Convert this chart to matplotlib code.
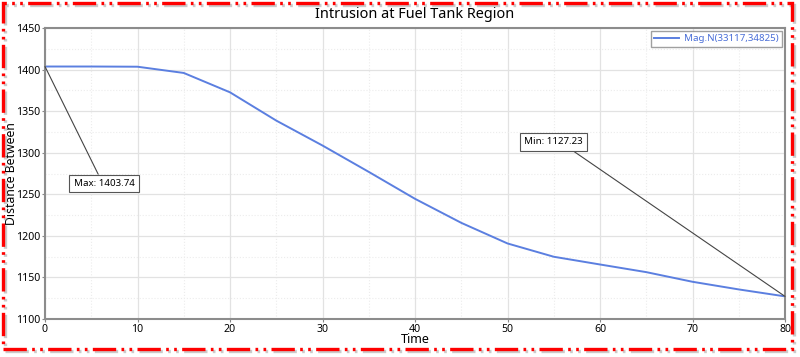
import matplotlib.pyplot as plt
from matplotlib.patches import Rectangle
from matplotlib.ticker import MultipleLocator

plt.rcParams['font.family'] = ['Noto Sans', 'DejaVu Sans']

# данные кривой
time = [0, 5, 10, 15, 20, 25, 30, 35, 40, 45, 50, 55, 60, 65, 70, 75, 80]
dist = [1403.74, 1403.74, 1403.5, 1396.0, 1372.7, 1338.7, 1308.7, 1277.0, 1244.6,
        1215.7, 1190.9, 1174.9, 1165.6, 1156.4, 1144.8, 1135.6, 1127.23]
series_name = 'Mag.N(33117,34825)'

fig = plt.figure(figsize=(8, 3.57), dpi=100)
ax = fig.add_axes([0.05625, 0.1064, 0.925, 0.815])

ax.plot(time, dist, color='#5b7fe0', lw=1.4, label=series_name)
ax.set_xlim(0, 80)
ax.set_ylim(1100, 1450)
ax.xaxis.set_major_locator(MultipleLocator(10))
ax.xaxis.set_minor_locator(MultipleLocator(5))
ax.yaxis.set_major_locator(MultipleLocator(50))
ax.yaxis.set_minor_locator(MultipleLocator(25))
ax.grid(which='major', color='#e2e2e2', lw=0.9)
ax.grid(which='minor', color='#ececec', lw=0.8, ls=':')
ax.tick_params(which='major', length=2.5, labelsize=7.6, color='#888888', pad=1)
ax.tick_params(which='minor', length=0)
for s in ax.spines.values():
    s.set_color('#8c8c8c')
    s.set_linewidth(1.5)

ax.set_title('Intrusion at Fuel Tank Region', fontsize=10.4, pad=7)
ax.set_xlabel('Time', fontsize=9, labelpad=-1)
ax.set_ylabel('Distance Between', fontsize=8.8)
ax.yaxis.set_label_coords(-0.037, 0.5)

leg = ax.legend(loc='upper right', fontsize=7, frameon=True, fancybox=False,
                handlelength=2.6, handletextpad=0.5, borderpad=0.35, borderaxespad=0.3)
leg.get_frame().set_edgecolor('#888888')
leg.get_frame().set_linewidth(1.0)
for t in leg.get_texts():
    t.set_color('#4a6fd8')

# подписи максимума и минимума
i_max = dist.index(max(dist))
i_min = dist.index(min(dist))
box = dict(boxstyle='square,pad=0.45', fc='white', ec='#555555', lw=0.8)
ax.annotate('Max: %.2f' % dist[i_max], xy=(time[i_max], dist[i_max]), xytext=(6.4, 1263),
            fontsize=7, ha='center', va='center', bbox=box,
            arrowprops=dict(arrowstyle='-', color='#444444', lw=0.8, shrinkA=0, shrinkB=0,
                            relpos=(0.44, 1.0)))
ax.annotate('Min: %.2f' % dist[i_min], xy=(time[i_min], dist[i_min]), xytext=(55.0, 1313),
            fontsize=7, ha='center', va='center', bbox=box,
            arrowprops=dict(arrowstyle='-', color='#444444', lw=0.8, shrinkA=0, shrinkB=0,
                            relpos=(0.72, 0.0)))

# рамка вокруг рисунка
dash = (0, (7, 1.6, 0.8, 1.6, 0.8, 1.6))
fig.patches.append(Rectangle((0.006, 0.018), 0.986, 0.969, transform=fig.transFigure,
                             fill=False, ec='#999999', lw=2.4, alpha=0.5, linestyle=dash))
fig.patches.append(Rectangle((0.0035, 0.0224), 0.986, 0.969, transform=fig.transFigure,
                             fill=False, ec='red', lw=2.4, linestyle=dash))

fig.savefig('out.png', dpi=100)
